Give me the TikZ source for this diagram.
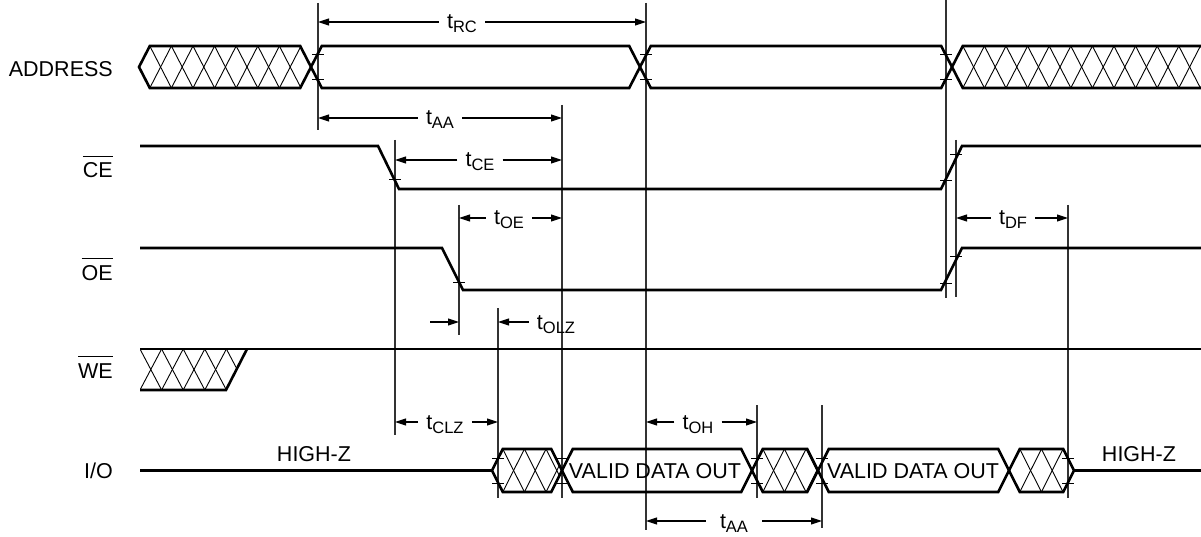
\documentclass[tikz,border=0pt]{standalone}
\usepackage{fontspec}
\setmainfont{Liberation Sans}
\usetikzlibrary{arrows.meta}
\newcommand\myovl[1]{\vbox{\hrule height 1.1pt\kern 6pt\hbox{#1}}}
\newcommand\tsub[1]{t\raisebox{-4pt}{\fontsize{16.5}{16.5}\selectfont #1}}
\newcommand\mytick[2]{\draw[tick] (#1-6,#2) -- (#1+6,#2);}
% hatched bus segment: xa, xb, yt, yb, h
\newcommand\mybushatch[5]{%
  \begin{scope}
    \clip (#1,{(#3+#4)/2}) -- (#1+#5,#3) -- (#2-#5,#3) -- (#2,{(#3+#4)/2}) -- (#2-#5,#4) -- (#1+#5,#4) -- cycle;
    \foreach \k in {0,...,15}{
      \draw[hatch] ({#1+2*#5*\k-#5},#3) -- ({#1+2*#5*\k+#5},#4);
      \draw[hatch] ({#1+2*#5*\k-#5},#4) -- ({#1+2*#5*\k+#5},#3);
    }
  \end{scope}
  \draw[sig] (#1,{(#3+#4)/2}) -- (#1+#5,#3) -- (#2-#5,#3) -- (#2,{(#3+#4)/2}) -- (#2-#5,#4) -- (#1+#5,#4) -- cycle;
}
\newcommand\mybusvalid[5]{%
  \draw[sig] (#1,{(#3+#4)/2}) -- (#1+#5,#3) -- (#2-#5,#3) -- (#2,{(#3+#4)/2}) -- (#2-#5,#4) -- (#1+#5,#4) -- cycle;
}
\begin{document}
\begin{tikzpicture}[x=1pt,y=-1pt,
  sig/.style={line width=2.6pt},
  hatch/.style={line width=0.9pt},
  vline/.style={line width=1.1pt, black!80},
  tick/.style={line width=1pt},
  dim/.style={line width=1.1pt, -{Triangle[length=11pt,width=7pt]}},
  lbl/.style={inner xsep=8pt, inner ysep=0pt, text height=14pt, text depth=0pt, font=\fontsize{21.5}{25}\selectfont},
  siglbl/.style={inner sep=0pt, font=\fontsize{21.5}{25}\selectfont},
]
\fill[white] (0,0) rectangle (1201,537);
\useasboundingbox (0,0) rectangle (1201,537);

% signal names
\node[siglbl, anchor=base east] (nADDR) at (113,77) {ADDRESS};
\node[siglbl, anchor=base east] (nCE) at (113,178) {\myovl{CE}};
\node[siglbl, anchor=base east] (nOE) at (113,280) {\myovl{OE}};
\node[siglbl, anchor=base east] (nWE) at (113,378) {\myovl{WE}};
\node[siglbl, anchor=base east] (nIO) at (113,478) {I/O};

% vertical reference lines
\draw[vline] (318,3) -- (318,130);
\draw[vline] (646,3) -- (646,530);
\draw[vline] (946,0) -- (946,298);
\draw[vline] (956,140) -- (956,297);
\draw[vline] (395,140) -- (395,435);
\draw[vline] (562,105) -- (562,498);
\draw[vline] (459,205) -- (459,335);
\draw[vline] (1068,205) -- (1068,498);
\draw[vline] (498,308) -- (498,498);
\draw[vline] (757,405) -- (757,498);
\draw[vline] (822,405) -- (822,528);

% ADDRESS bus
\mybushatch{139}{311}{46}{88}{10.8}
\mybusvalid{311}{640}{46}{88}{10.8}
\mybusvalid{640}{952}{46}{88}{10.8}
\mybushatch{952}{1260}{46}{88}{10.8}
\mytick{318}{54.5}\mytick{318}{79.5}
\mytick{646}{54.5}\mytick{646}{79.5}
\mytick{946}{54.5}\mytick{946}{79.5}

% CE
\draw[sig] (140,146) -- (378,146) -- (399,189) -- (941,189) -- (962,146) -- (1201,146);
\mytick{395}{180}\mytick{946}{181}\mytick{956}{155}

% OE
\draw[sig] (140,248) -- (442,248) -- (463,290) -- (941,290) -- (962,248) -- (1201,248);
\mytick{459}{282}\mytick{946}{283}\mytick{956}{257}

% WE
\begin{scope}
  \clip (140,349) -- (247,349) -- (226,390) -- (140,390) -- cycle;
  \foreach \k in {0,...,5}{
    \draw[hatch] ({140+21.6*\k},349) -- ({161.6+21.6*\k},390);
    \draw[hatch] ({140+21.6*\k},390) -- ({161.6+21.6*\k},349);
  }
\end{scope}
\draw[sig] (140,349) -- (1201,349);
\draw[sig] (140,390) -- (226,390) -- (247,349);

% I/O
\draw[sig] (140,470.5) -- (492,470.5);
\mybushatch{492}{562}{449}{492}{10.8}
\mybusvalid{562}{752}{449}{492}{10.8}
\mybushatch{752}{818}{449}{492}{10.8}
\mybusvalid{818}{1009}{449}{492}{10.8}
\mybushatch{1009}{1074}{449}{492}{10.8}
\draw[sig] (1074,470.5) -- (1201,470.5);
\foreach \xx in {498,562,757,822,1068}{\mytick{\xx}{458}\mytick{\xx}{483}}
\node[siglbl, anchor=base] (vd1) at (655,478) {VALID DATA OUT};
\node[siglbl, anchor=base] (vd2) at (913,478) {VALID DATA OUT};
\node[siglbl, anchor=base] (hz1) at (314,461.5) {HIGH-Z};
\node[siglbl, anchor=base] (hz2) at (1139,461.5) {HIGH-Z};

% timing arrows
\coordinate (rcL) at (318,22); \coordinate (rcR) at (646,22);
\node[lbl] (tRC) at (462,22) {\tsub{RC}};
\draw[dim] (tRC.west) -- (rcL); \draw[dim] (tRC.east) -- (rcR);

\coordinate (aaL) at (318,118); \coordinate (aaR) at (562,118);
\node[lbl] (tAA) at (440,118) {\tsub{AA}};
\draw[dim] (tAA.west) -- (aaL); \draw[dim] (tAA.east) -- (aaR);

\coordinate (ceL) at (395,160); \coordinate (ceR) at (562,160);
\node[lbl] (tCE) at (480,160) {\tsub{CE}};
\draw[dim] (tCE.west) -- (ceL); \draw[dim] (tCE.east) -- (ceR);

\coordinate (oeL) at (459,218); \coordinate (oeR) at (562,218);
\node[lbl] (tOE) at (509,218) {\tsub{OE}};
\draw[dim] (tOE.west) -- (oeL); \draw[dim] (tOE.east) -- (oeR);

\coordinate (dfL) at (956,218); \coordinate (dfR) at (1068,218);
\node[lbl] (tDF) at (1013,218) {\tsub{DF}};
\draw[dim] (tDF.west) -- (dfL); \draw[dim] (tDF.east) -- (dfR);

\coordinate (olzA) at (430,322); \coordinate (olzB) at (459,322); \coordinate (olzC) at (498,322);
\node[lbl] (tOLZ) at (556,322) {\tsub{OLZ}};
\draw[dim] (olzA) -- (olzB); \draw[dim] (tOLZ.west) -- (olzC);

\coordinate (clzL) at (395,422); \coordinate (clzR) at (498,422);
\node[lbl] (tCLZ) at (445,422) {\tsub{CLZ}};
\draw[dim] (tCLZ.west) -- (clzL); \draw[dim] (tCLZ.east) -- (clzR);

\coordinate (ohL) at (646,422); \coordinate (ohR) at (757,422);
\node[lbl] (tOH) at (698,422) {\tsub{OH}};
\draw[dim] (tOH.west) -- (ohL); \draw[dim] (tOH.east) -- (ohR);

\coordinate (ab2L) at (646,521); \coordinate (ab2R) at (822,521);
\node[lbl, inner xsep=14pt] (tAA2) at (734,521) {\tsub{AA}};
\draw[dim] (tAA2.west) -- (ab2L); \draw[dim] (tAA2.east) -- (ab2R);
\end{tikzpicture}
\end{document}
